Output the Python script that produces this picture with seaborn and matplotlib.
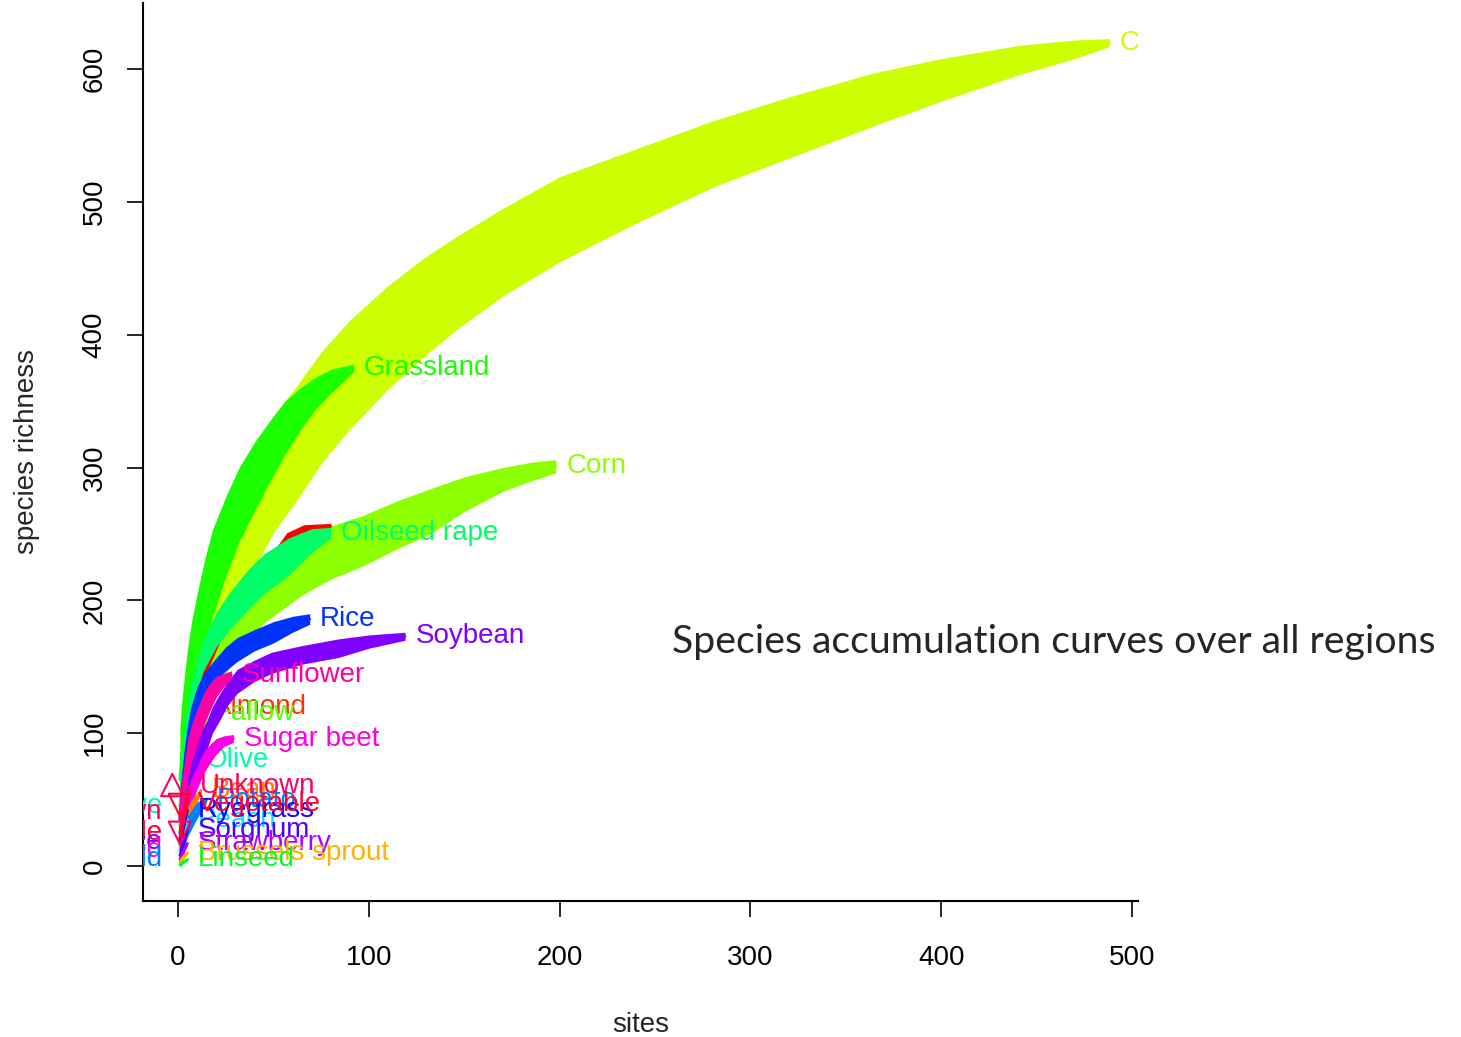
import matplotlib
matplotlib.use("Agg")
import matplotlib.pyplot as plt
import seaborn as sns

# species accumulation data: sites, mean richness, CI half-width
cereal_sites = [1, 3, 6, 10, 15, 20, 30, 40, 50, 62, 75, 90, 110, 130, 146,
                170, 200, 240, 280, 320, 364, 400, 441, 470, 488]
cereal_rich = [18, 45, 80, 115, 150, 180, 235, 268, 295, 318, 345, 370, 398, 422, 439,
               462, 487, 512, 536, 556, 577, 592, 607, 615, 620]
cereal_ci = [10, 18, 28, 35, 40, 42, 44, 44, 44, 43, 42, 41, 39, 37, 35,
             33, 32, 28, 25, 23, 20, 16, 11, 7, 3]

corn_sites = [1, 3, 6, 10, 15, 22, 32, 45, 65, 80, 97, 115, 132, 150, 170, 185, 198]
corn_rich = [30, 55, 82, 108, 132, 158, 185, 205, 225, 236, 245, 257, 267, 280, 291, 297, 301]
corn_ci = [15, 18, 20, 21, 22, 22, 22, 22, 21, 20, 19, 18, 17, 13, 9, 7, 5]

grass_sites = [1, 2, 3, 5, 7, 10, 14, 18, 25, 32, 40, 48, 56, 64, 72, 80, 92]
grass_rich = [65, 85, 100, 128, 148, 172, 198, 220, 248, 272, 293, 312, 330, 344, 356, 365, 375]
grass_ci = [40, 39, 38, 36, 35, 33, 33, 33, 30, 28, 26, 23, 20, 16, 12, 9, 3]

red_sites = [1, 5, 10, 15, 22, 30, 39, 48, 57, 66, 80]
red_rich = [40, 100, 135, 158, 180, 195, 212, 226, 243, 251, 256]
red_ci = [15, 14, 13, 12, 11, 10, 8, 7, 8, 6, 2]

oil_sites = [1, 3, 5, 9, 13, 20, 27, 36, 45, 58, 70, 80]
oil_rich = [45, 85, 110, 138, 158, 178, 192, 207, 220, 233, 245, 251]
oil_ci = [20, 17, 15, 13, 12, 13, 14, 15, 15, 14, 9, 4]

almond_sites = [1, 4, 8, 13]
almond_rich = [35, 75, 100, 120]
almond_ci = [15, 14, 10, 3]

fallow_sites = [1, 4, 9, 14]
fallow_rich = [30, 70, 95, 115]
fallow_ci = [15, 13, 10, 3]

olive_sites = [1, 3, 6, 9]
olive_rich = [25, 48, 66, 80]
olive_ci = [12, 11, 8, 3]

rice_sites = [1, 3, 5, 7, 10, 14, 19, 25, 31, 40, 50, 60, 69]
rice_rich = [35, 70, 95, 110, 125, 137, 147, 156, 163, 170, 176, 182, 186]
rice_ci = [20, 14, 12, 11, 10, 9, 8, 9, 9, 8, 8, 6, 4]

soy_sites = [1, 3, 5, 8, 11, 15, 18, 22, 26, 31, 40, 49, 65, 84, 100, 119]
soy_rich = [25, 45, 60, 75, 87, 98, 110, 120, 130, 139, 147, 153, 159, 164, 169, 173]
soy_ci = [12, 12, 12, 12, 12, 11, 10, 10, 9, 9, 8, 8, 7, 7, 5, 3]

sun_sites = [1, 2, 3, 5, 7, 10, 14, 17, 20, 24, 28]
sun_rich = [35, 50, 60, 80, 92, 105, 120, 128, 135, 140, 144]
sun_ci = [15, 15, 15, 15, 14, 13, 12, 10, 8, 5, 3]

beet_sites = [1, 2, 3, 5, 7, 9, 12, 14, 17, 20, 24, 29]
beet_rich = [20, 30, 37, 48, 56, 63, 73, 79, 85, 90, 94, 96]
beet_ci = [8, 10, 10, 10, 10, 9, 8, 8, 7, 6, 4, 3]

bean_sites = [1, 4, 8, 12]
bean_rich = [15, 32, 46, 57]
bean_ci = [10, 9, 6, 2]

potato_sites = [1, 5, 10, 15]
potato_rich = [12, 30, 42, 50]
potato_ci = [8, 8, 6, 2]

unknown_sites = [1, 3, 6]
unknown_rich = [20, 42, 60]
unknown_ci = [12, 9, 3]

peach_sites = [1, 3, 5]
peach_rich = [12, 25, 35]
peach_ci = [14, 6, 2]

rye_sites = [1, 3, 5]
rye_rich = [17, 32, 42]
rye_ci = [9, 6, 2]

veg_sites = [1, 3, 5]
veg_rich = [22, 37, 47]
veg_ci = [10, 7, 2]

sorghum_sites = [1, 3, 5]
sorghum_rich = [8, 18, 27]
sorghum_ci = [6, 4, 2]

straw_sites = [1, 3, 5]
straw_rich = [5, 12, 17]
straw_ci = [4, 3, 1]

sprout_sites = [1, 3, 5]
sprout_rich = [3, 7, 10]
sprout_ci = [3, 2, 1]

linseed_sites = [1, 3, 5]
linseed_rich = [1, 3, 5]
linseed_ci = [2, 1, 1]

# drawing order, bottom to top: (label, colour, sites, richness, ci)
crops = [
    ("C", "#CCFF00", cereal_sites, cereal_rich, cereal_ci),
    ("Corn", "#8CFF00", corn_sites, corn_rich, corn_ci),
    ("Grassland", "#1AFF00", grass_sites, grass_rich, grass_ci),
    ("", "#FF0000", red_sites, red_rich, red_ci),
    ("Oilseed rape", "#00FF66", oil_sites, oil_rich, oil_ci),
    ("Almond", "#FF3300", almond_sites, almond_rich, almond_ci),
    ("Fallow", "#5CFF00", fallow_sites, fallow_rich, fallow_ci),
    ("Olive", "#00FFA6", olive_sites, olive_rich, olive_ci),
    ("Rice", "#0033FF", rice_sites, rice_rich, rice_ci),
    ("Soybean", "#8000FF", soy_sites, soy_rich, soy_ci),
    ("Sunflower", "#FF00A6", sun_sites, sun_rich, sun_ci),
    ("Sugar beet", "#FF00E6", beet_sites, beet_rich, beet_ci),
    ("Bean", "#FF8000", bean_sites, bean_rich, bean_ci),
    ("Potato", "#0080FF", potato_sites, potato_rich, potato_ci),
    ("Unknown", "#FF0066", unknown_sites, unknown_rich, unknown_ci),
    ("Peach", "#00E6FF", peach_sites, peach_rich, peach_ci),
    ("Ryegrass", "#1A00FF", rye_sites, rye_rich, rye_ci),
    ("Vegetable", "#FF0033", veg_sites, veg_rich, veg_ci),
    ("Sorghum", "#4D00FF", sorghum_sites, sorghum_rich, sorghum_ci),
    ("Strawberry", "#B300FF", straw_sites, straw_rich, straw_ci),
    ("Brussels sprout", "#FFB300", sprout_sites, sprout_rich, sprout_ci),
    ("Linseed", "#00FF26", linseed_sites, linseed_rich, linseed_ci),
]

# labels whose start falls left of the y axis (clipped)
left_labels = ["Olive", "Unknown", "Vegetable", "Lettuce", "Linseed", "Field"]
left_y = [45, 41, 25, 18, 12, 5]
left_colors = ["#00FFA6", "#FF0066", "#FF0033", "#8000FF", "#FF00E6", "#0080FF"]

sns.set_style("ticks")
plt.rcParams['font.family'] = ['Liberation Sans', 'DejaVu Sans']

fig = plt.figure(figsize=(14.61, 10.37), dpi=100)
ax = fig.add_axes([0.09788, 0.13115, 0.68104, 0.86596])

for i, (name, col, xs, ys, ci) in enumerate(crops):
    z = 2 + i
    lo = [y - c for y, c in zip(ys, ci)]
    hi = [y + c for y, c in zip(ys, ci)]
    ax.fill_between(xs, lo, hi, color=col, lw=0, zorder=z)
    sns.lineplot(x=xs, y=ys, color=col, lw=2, ax=ax, zorder=z)
    if name:
        t = ax.annotate(name, (xs[-1], ys[-1]), xytext=(7.5, 0),
                        textcoords='offset points', va='center', ha='left',
                        color=col, fontsize=20, zorder=z + 0.5,
                        annotation_clip=False)
        t.set_clip_box(ax.bbox)
        t.set_clip_on(True)

for lab, y, c in zip(left_labels, left_y, left_colors):
    t = ax.text(-8, y, lab, ha='right', va='center', color=c, fontsize=20,
                zorder=40)
    t.set_clip_box(ax.bbox)
    t.set_clip_on(True)

# open markers near the origin
ax.scatter([-3], [61], marker='^', s=260, facecolors='none',
           edgecolors='#FF0066', linewidths=1.5, zorder=41)
ax.scatter([1, 1], [46, 25], marker='v', s=260, facecolors='none',
           edgecolors=['#FF0033', '#FF0066'], linewidths=1.5, zorder=41)

ax.set_xlim(-18.34, 503.1)
ax.set_ylim(-26.35, 649.85)
ax.set_xticks([0, 100, 200, 300, 400, 500])
ax.set_yticks([0, 100, 200, 300, 400, 500, 600])
sns.despine(ax=ax)
for s in ('left', 'bottom'):
    ax.spines[s].set_linewidth(1.5)
    ax.spines[s].set_color('black')
ax.tick_params(axis='both', direction='out', length=11.5, width=1.2,
               labelsize=20, colors='black')
ax.tick_params(axis='x', pad=20)
ax.tick_params(axis='y', pad=14)
plt.setp(ax.get_yticklabels(), rotation=90, va='center')
ax.set_xlabel('')
ax.set_ylabel('')

fig.text(641 / 1461, 1 - 1025 / 1037, 'sites', fontsize=20,
         ha='center', va='center')
fig.text(27 / 1461, 1 - 452 / 1037, 'species richness', fontsize=20,
         rotation=90, ha='center', va='center')
fig.text(672 / 1461, 1 - 642 / 1037, 'Species accumulation curves over all regions',
         fontsize=28.3, family=['Lato', 'DejaVu Sans'], ha='left', va='center')

fig.savefig('out.png', dpi=100)
